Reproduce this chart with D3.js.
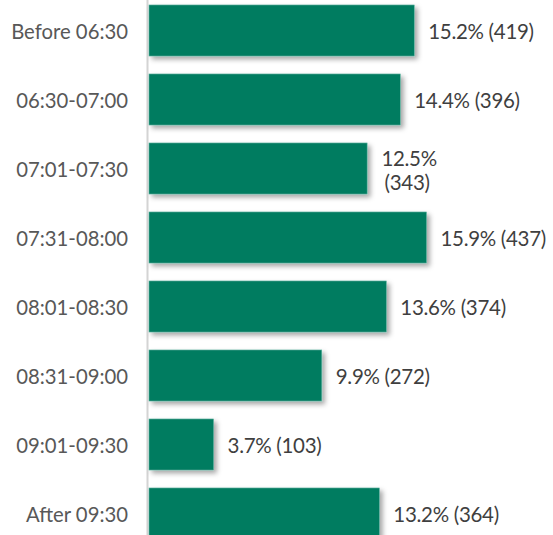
<!DOCTYPE html>
<html><head><meta charset="utf-8">
<script src="https://cdn.jsdelivr.net/npm/d3@7"></script>
<style>body{margin:0;background:#fff;overflow:hidden}</style>
</head><body>
<svg id="chart" width="553" height="535"></svg>
<script>
const categories = ["Before 06:30","06:30-07:00","07:01-07:30","07:31-08:00","08:01-08:30","08:31-09:00","09:01-09:30","After 09:30"];
const percents = [15.2,14.4,12.5,15.9,13.6,9.9,3.7,13.2];
const counts = [419,396,343,437,374,272,103,364];
const wrappedLabel = [false,false,true,false,false,false,false,false];

const svg = d3.select("#chart");
const W = 553, H = 535;
const left = 149;

const defs = svg.append("defs");
const f = defs.append("filter").attr("id","sh").attr("x","-10%").attr("y","-20%").attr("width","130%").attr("height","160%");
f.append("feDropShadow").attr("dx",3).attr("dy",3).attr("stdDeviation",2.5).attr("flood-color","#000").attr("flood-opacity",0.35);

const x = d3.scaleLinear().domain([0, 23]).range([left, left + 23*17.45]);
const y = d3.scaleBand().domain(categories).range([-4, 548]).paddingInner(0.26).paddingOuter(0.13);

const data = categories.map((c,i)=>({c, p:percents[i], n:counts[i], w:wrappedLabel[i]}));

// axis line
svg.append("line").attr("x1",147.5).attr("x2",147.5).attr("y1",0).attr("y2",H)
  .attr("stroke","#d4d4d4").attr("stroke-width",2);

svg.append("g").selectAll("rect").data(data).join("rect")
  .attr("x", x(0)).attr("y", d=>y(d.c))
  .attr("width", d=>x(d.p)-x(0)).attr("height", y.bandwidth())
  .attr("fill","#027b60").attr("stroke","#5fb3a0").attr("stroke-width",0.6)
  .attr("filter","url(#sh)");

// category labels
svg.append("g").selectAll("text").data(data).join("text")
  .attr("x",128).attr("y", d=>y(d.c)+y.bandwidth()/2)
  .attr("text-anchor","end").attr("dominant-baseline","central")
  .attr("font-family","Lato").attr("font-size",20.3).attr("fill","#585858")
  .text(d=>d.c);

// value labels
const vl = svg.append("g").selectAll("text").data(data).join("text")
  .attr("font-family","Lato").attr("font-size",20.5).attr("fill","#3f3f3f")
  .attr("letter-spacing","-0.3");
vl.each(function(d){
  const t = d3.select(this);
  const cy = y(d.c)+y.bandwidth()/2;
  const xe = x(d.p)+14;
  if(d.w){
    t.attr("text-anchor","middle");
    t.append("tspan").attr("x", xe+28).attr("y", cy-11).attr("dominant-baseline","central").text(d.p.toFixed(1)+"%");
    t.append("tspan").attr("x", xe+26).attr("y", cy+13).attr("dominant-baseline","central").text("("+d.n+")");
  } else {
    t.attr("x", xe).attr("y", cy).attr("dominant-baseline","central")
     .text(d.p.toFixed(1)+"% ("+d.n+")");
  }
});
</script>
</body></html>
